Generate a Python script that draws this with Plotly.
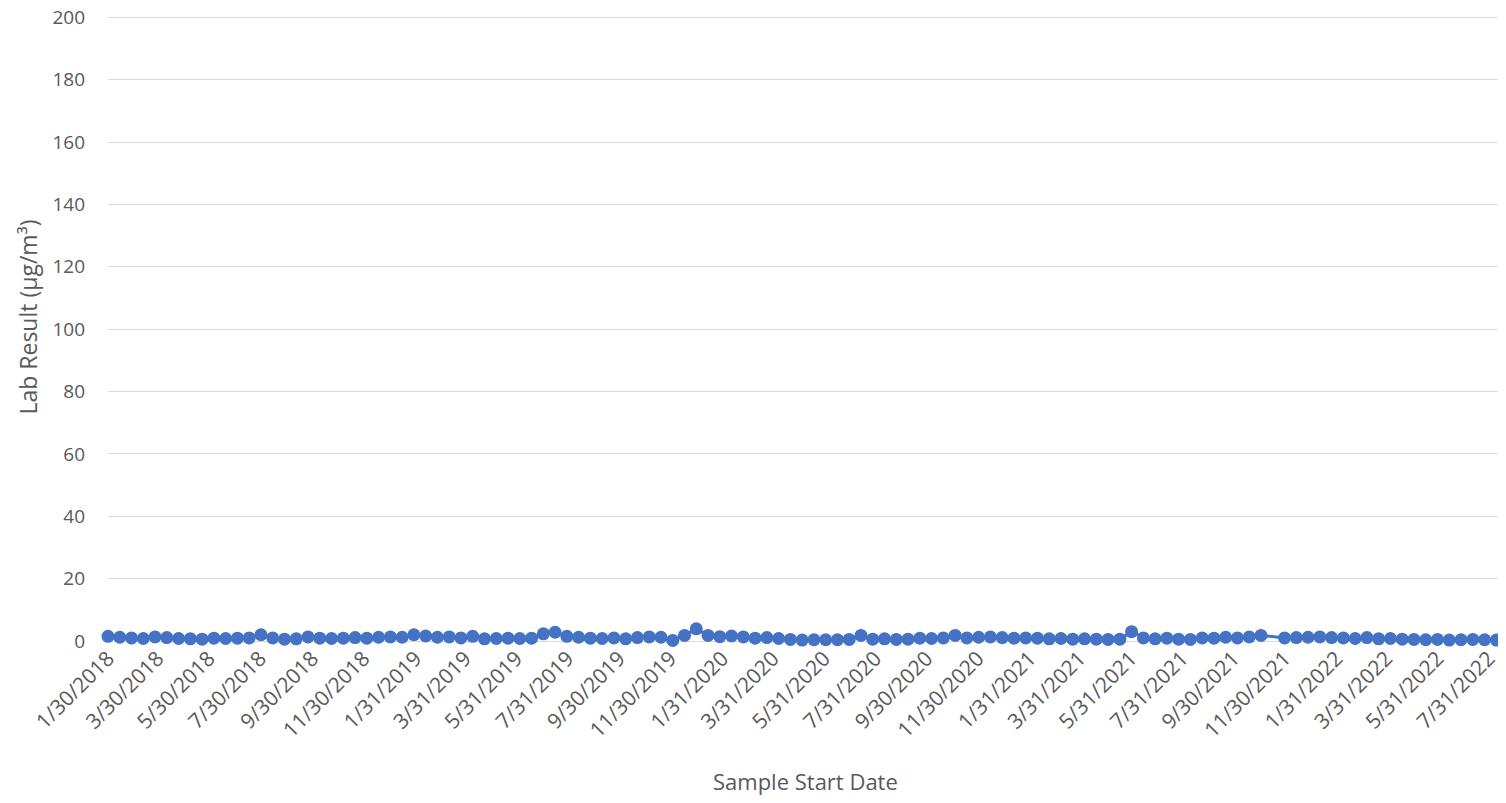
"""
Lab result time series (Excel-style line chart with markers)
"""

import pandas as pd
import plotly.graph_objects as go


# sampling schedule: every 14 days from 1/30/2018, one sample missing in Nov 2021
sample_dates = pd.date_range("2018-01-30", periods=119, freq="14D")
sample_dates = sample_dates.delete(99)

lab_results = [
    1.5, 1.2, 1.0, 0.8, 1.3, 1.1, 0.8, 0.7, 0.6, 0.9,
    0.8, 0.9, 1.0, 2.0, 1.0, 0.6, 0.7, 1.3, 0.9, 0.8,
    0.9, 1.1, 0.9, 1.2, 1.3, 1.2, 2.0, 1.6, 1.2, 1.3,
    1.0, 1.5, 0.7, 0.8, 0.9, 0.8, 0.9, 2.3, 2.8, 1.5,
    1.2, 0.9, 0.8, 1.0, 0.7, 1.1, 1.3, 1.2, 0.2, 1.8,
    3.9, 1.8, 1.4, 1.6, 1.3, 0.9, 1.1, 0.8, 0.5, 0.3,
    0.4, 0.4, 0.4, 0.5, 1.8, 0.6, 0.7, 0.5, 0.6, 0.9,
    0.8, 1.0, 1.8, 1.0, 1.2, 1.3, 1.1, 0.9, 1.0, 0.9,
    0.7, 0.8, 0.6, 0.7, 0.6, 0.5, 0.6, 3.0, 1.0, 0.7,
    0.9, 0.6, 0.5, 1.0, 0.9, 1.2, 1.0, 1.3, 1.8,
    1.0, 1.1, 1.2, 1.3, 1.1, 1.0, 0.8, 1.1, 0.7, 0.8,
    0.6, 0.5, 0.4, 0.5, 0.3, 0.4, 0.5, 0.4, 0.3,
]

tick_labels = [
    "1/30/2018", "3/30/2018", "5/30/2018", "7/30/2018", "9/30/2018", "11/30/2018",
    "1/31/2019", "3/31/2019", "5/31/2019", "7/31/2019", "9/30/2019", "11/30/2019",
    "1/31/2020", "3/31/2020", "5/31/2020", "7/31/2020", "9/30/2020", "11/30/2020",
    "1/31/2021", "3/31/2021", "5/31/2021", "7/31/2021", "9/30/2021", "11/30/2021",
    "1/31/2022", "3/31/2022", "5/31/2022", "7/31/2022",
]
tick_vals = pd.to_datetime(tick_labels, format="%m/%d/%Y")

font_family = "Open Sans, Liberation Sans, sans-serif"
text_color = "#595959"
grid_color = "#d9d9d9"

fig = go.Figure()
fig.add_trace(
    go.Scatter(
        x=sample_dates, y=lab_results, mode="lines+markers",
        line=dict(color="#4472C4", width=3),
        marker=dict(color="#4472C4", size=13),
        showlegend=False, cliponaxis=False,
    )
)

fig.update_xaxes(
    type="date", automargin=False, ticklabeloverflow="allow",
    range=["2018-01-30", "2022-08-11"],
    tickvals=tick_vals, ticktext=tick_labels, tickangle=-45,
    tickfont=dict(family=font_family, size=21, color=text_color),
    showgrid=False, zeroline=False, showline=False, ticks="",
)
fig.update_yaxes(
    automargin=False, ticklabeloverflow="allow",
    range=[0, 200.4], tickvals=list(range(0, 201, 20)),
    tickfont=dict(family=font_family, size=19, color=text_color),
    showgrid=True, gridcolor=grid_color, gridwidth=1,
    zeroline=True, zerolinecolor=grid_color, zerolinewidth=1,
    showline=False, ticks="", ticklabelstandoff=22,
)

# axis titles
fig.add_annotation(
    text="Sample Start Date", xref="paper", yref="paper", x=0.502, y=-0.224,
    xanchor="center", yanchor="middle", showarrow=False,
    font=dict(family=font_family, size=22, color=text_color),
)
fig.add_annotation(
    text="Lab Result (µg/m³)", xref="paper", yref="paper", x=-0.0576, y=0.519,
    xanchor="center", yanchor="middle", showarrow=False, textangle=-90,
    font=dict(family=font_family, size=23, color=text_color),
)

# the page body adds an 8px offset, so the figure is sized to fit inside the window
fig.update_layout(
    width=1490, height=787,
    margin=dict(l=100, r=0, t=8, b=154),
    plot_bgcolor="white", paper_bgcolor="white",
)

fig.write_html("out.html")
